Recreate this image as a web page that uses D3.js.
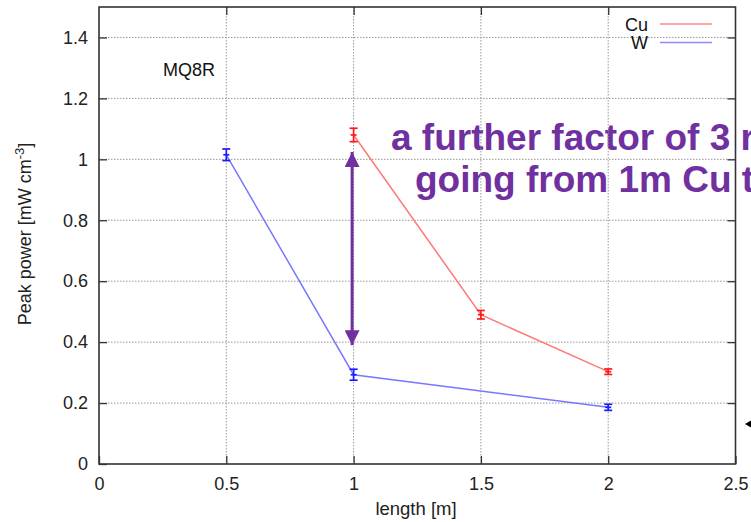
<!DOCTYPE html>
<html>
<head>
<meta charset="utf-8">
<script src="https://cdn.jsdelivr.net/npm/d3@7"></script>
<style>
  html, body { margin: 0; padding: 0; background: #fff; }
  svg { display: block; font-family: "Liberation Sans", Arial, sans-serif; }
</style>
</head>
<body>
<svg id="chart" width="751" height="522"></svg>
<script>
// Peak power vs. collimator length for two jaw materials
const cuLength = [1, 1.5, 2];
const cuPower = [1.08, 0.49, 0.303];
const cuError = [0.022, 0.014, 0.009];
const wLength = [0.5, 1, 2];
const wPower = [1.015, 0.293, 0.186];
const wError = [0.019, 0.018, 0.01];
const xTicks = [0, 0.5, 1, 1.5, 2, 2.5];
const yTicks = [0, 0.2, 0.4, 0.6, 0.8, 1, 1.2, 1.4];
const arrowSpan = [1.024, 0.39];   // factor-of-3 span at 1 m
const noteLines = ["a further factor of 3 r", "going from 1m Cu t"];

const svg = d3.select("#chart");
const plotLeft = 99, plotRight = 735.5, plotTop = 7, plotBottom = 464;

const x = d3.scaleLinear().domain([0, 2.5]).range([plotLeft, plotRight]);
const y = d3.scaleLinear().domain([0, 1.5]).range([plotBottom, plotTop]);

const purple = "#7030a0";

// annotation text sits underneath the grid and frame
const note = svg.append("g")
  .attr("font-weight", "bold").attr("font-size", 37).attr("fill", purple);
note.append("text").attr("x", 391).attr("y", 150).text(noteLines[0]);
note.append("text").attr("x", 415).attr("y", 192).text(noteLines[1]);

// dotted grid
const grid = svg.append("g").attr("stroke", "#999").attr("stroke-width", 1)
  .attr("stroke-dasharray", "1.5,1.5");
grid.selectAll("line.gx").data(xTicks.slice(1, -1)).join("line")
  .attr("x1", d => x(d)).attr("x2", d => x(d))
  .attr("y1", plotTop).attr("y2", plotBottom);
grid.selectAll("line.gy").data(yTicks.slice(1)).join("line")
  .attr("x1", plotLeft).attr("x2", plotRight)
  .attr("y1", d => y(d)).attr("y2", d => y(d));

// axes with inward ticks on all four sides
const tickStyle = g => {
  g.select(".domain").remove();
  g.selectAll(".tick line").attr("stroke", "#333").attr("stroke-width", 1.3);
  g.selectAll(".tick text").attr("fill", "#222").attr("font-size", 18)
    .attr("font-family", "Liberation Sans, Arial, sans-serif");
};
svg.append("g").attr("transform", `translate(0,${plotBottom})`)
  .call(d3.axisBottom(x).tickValues(xTicks).tickFormat(d3.format("")).tickSize(-8).tickPadding(13))
  .call(tickStyle);
svg.append("g").attr("transform", `translate(${plotLeft},0)`)
  .call(d3.axisLeft(y).tickValues(yTicks).tickFormat(d3.format("")).tickSize(-8).tickPadding(11))
  .call(tickStyle);
svg.append("g").attr("transform", `translate(0,${plotTop})`)
  .call(d3.axisTop(x).tickValues(xTicks.slice(1, -1)).tickFormat("").tickSize(-8))
  .call(tickStyle);
svg.append("g").attr("transform", `translate(${plotRight},0)`)
  .call(d3.axisRight(y).tickValues(yTicks.slice(1)).tickFormat("").tickSize(-8))
  .call(tickStyle);

// frame
svg.append("rect").attr("x", plotLeft).attr("y", plotTop)
  .attr("width", plotRight - plotLeft).attr("height", plotBottom - plotTop)
  .attr("fill", "none").attr("stroke", "#333").attr("stroke-width", 1.6);

// series: lines and error bars
function drawSeries(xs, vs, es, lineColor, barColor) {
  const pts = xs.map((d, i) => ({ l: d, v: vs[i], e: es[i] }));
  svg.append("path").datum(pts)
    .attr("fill", "none").attr("stroke", lineColor).attr("stroke-width", 1.5)
    .attr("d", d3.line().x(d => x(d.l)).y(d => y(d.v)));
  const g = svg.append("g").attr("stroke", barColor).attr("stroke-width", 1.7);
  const w = 4;
  g.selectAll("line.bar").data(pts).join("line")
    .attr("x1", d => x(d.l)).attr("x2", d => x(d.l))
    .attr("y1", d => y(d.v + d.e)).attr("y2", d => y(d.v - d.e));
  g.selectAll("line.capT").data(pts).join("line")
    .attr("x1", d => x(d.l) - w).attr("x2", d => x(d.l) + w)
    .attr("y1", d => y(d.v + d.e)).attr("y2", d => y(d.v + d.e));
  g.selectAll("line.capB").data(pts).join("line")
    .attr("x1", d => x(d.l) - w).attr("x2", d => x(d.l) + w)
    .attr("y1", d => y(d.v - d.e)).attr("y2", d => y(d.v - d.e));
  g.selectAll("line.mid").data(pts).join("line")
    .attr("x1", d => x(d.l) - 3).attr("x2", d => x(d.l) + 3)
    .attr("y1", d => y(d.v)).attr("y2", d => y(d.v));
}
drawSeries(cuLength, cuPower, cuError, "#ff7878", "#ff1a1a");
drawSeries(wLength, wPower, wError, "#7878ff", "#1a1aff");

// double-headed arrow marking the drop at 1 m
const defs = svg.append("defs");
defs.append("marker").attr("id", "head").attr("viewBox", "0 0 10 10")
  .attr("refX", 10).attr("refY", 5).attr("markerWidth", 5).attr("markerHeight", 5)
  .attr("markerUnits", "strokeWidth").attr("orient", "auto-start-reverse")
  .append("path").attr("d", "M0,0 L10,5 L0,10 Z").attr("fill", purple);
svg.append("line")
  .attr("x1", x(1) - 1.5).attr("x2", x(1) - 1.5)
  .attr("y1", y(arrowSpan[0])).attr("y2", y(arrowSpan[1]))
  .attr("stroke", purple).attr("stroke-width", 3)
  .attr("marker-start", "url(#head)").attr("marker-end", "url(#head)");

// small black arrow at the right edge
svg.append("line").attr("x1", 749).attr("x2", 760).attr("y1", 424).attr("y2", 424)
  .attr("stroke", "#000").attr("stroke-width", 1.5);
svg.append("path").attr("d", "M745,424 L751,420.5 L751,427.5 Z").attr("fill", "#000");

// legend
const legend = [["Cu", "#ff8a8a"], ["W", "#8a8aff"]];
legend.forEach(([name, col], i) => {
  const yy = 24 + i * 18.5;
  svg.append("text").attr("x", 648).attr("y", yy + 6.5).attr("text-anchor", "end")
    .attr("font-size", 18).attr("fill", "#111").text(name);
  svg.append("line").attr("x1", 660).attr("x2", 712).attr("y1", yy).attr("y2", yy)
    .attr("stroke", col).attr("stroke-width", 1.5);
});

// plot label and axis titles
svg.append("text").attr("x", 163).attr("y", 76).attr("font-size", 18).attr("fill", "#111").text("MQ8R");
svg.append("text").attr("x", 416).attr("y", 515).attr("text-anchor", "middle")
  .attr("font-size", 18.5).attr("fill", "#222").text("length [m]");
const yt = svg.append("text").attr("transform", "translate(31,234) rotate(-90)")
  .attr("text-anchor", "middle").attr("font-size", 18).attr("fill", "#222");
yt.append("tspan").text("Peak power [mW cm");
yt.append("tspan").attr("dy", -7).attr("font-size", 13).text("-3");
yt.append("tspan").attr("dy", 7).text("]");
</script>
</body>
</html>
